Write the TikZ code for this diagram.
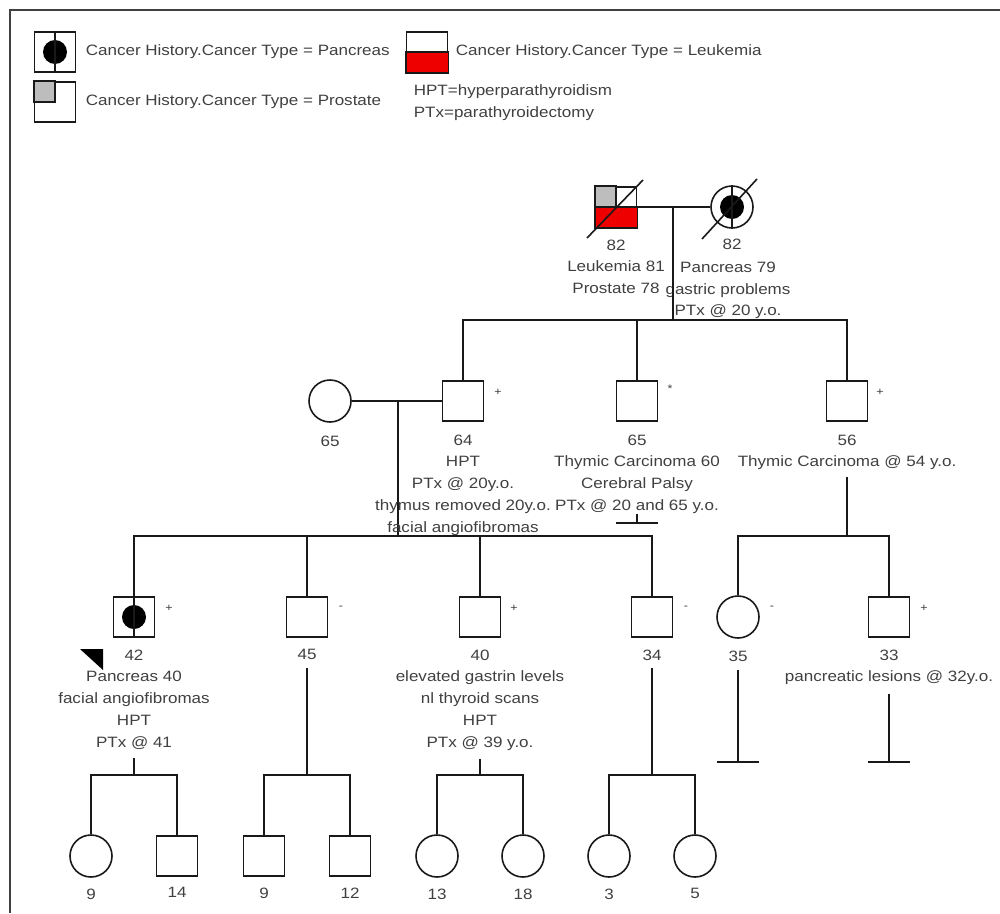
\documentclass[tikz,border=0pt]{standalone}
\usepackage{fontspec}
\setmainfont[FakeStretch=1.135]{Liberation Sans}
\usetikzlibrary{positioning}
\definecolor{txtgray}{HTML}{404040}
\definecolor{lkred}{HTML}{EE0000}
\definecolor{prgray}{HTML}{BDBDBD}

\begin{document}
\begin{tikzpicture}[x=1pt,y=-1pt,line width=1.6pt,draw=black!90,
		male/.style={draw,rectangle,minimum width=41pt,minimum height=40pt,inner sep=0pt},
		female/.style={draw,circle,minimum size=42pt,inner sep=0pt},
		info/.style={font=\fontsize{15}{21.8}\selectfont,text=txtgray,align=center,inner sep=0pt},
		sign/.style={font=\fontsize{11}{12}\selectfont,text=txtgray,inner sep=0pt}
	]
		\useasboundingbox (0,0) rectangle (1000,913);
		\draw [line width=2pt, black!75] (10,913) -- (10,10) -- (1000,10);
		
		% legend
		\node [male] (lgpan) at (55,52) {};
		\fill (lgpan.center) circle [radius=12pt];
		\draw (lgpan.north) -- (lgpan.south);
		\node [info,anchor=west] at (85,52) {Cancer History.Cancer Type = Pancreas};
		
		\node [male] (lgpro) at (55,102) {};
		\filldraw [fill=prgray] (lgpro.north west) rectangle (lgpro.center);
		\node [info,anchor=west] at (85,102) {Cancer History.Cancer Type = Prostate};
		
		\node [male] (lgleu) at (427,52) {};
		\filldraw [fill=lkred] (lgleu.west) rectangle (lgleu.south east);
		\node [info,anchor=west] at (455,52) {Cancer History.Cancer Type = Leukemia};
		\node [info,anchor=west] at (413,92) {HPT=hyperparathyroidism};
		\node [info,anchor=west] at (413,114) {PTx=parathyroidectomy};
		
		% generation I
		\node [male] (gpa) at (616,207) {};
		\filldraw [fill=lkred] (gpa.west) rectangle (gpa.south east);
		\filldraw [fill=prgray] (gpa.north west) rectangle (gpa.center);
		\draw (gpa.north) -- (gpa.center);
		\draw ([shift={(-29,31)}]gpa.center) -- ([shift={(27,-27)}]gpa.center);
		\node [info,below=11pt of gpa] (gpalbl) {82\\Leukemia 81\\Prostate 78};
		
		\node [female] (gma) at (732,207) {};
		\fill (gma.center) circle [radius=12pt];
		\draw (gma.north) -- (gma.south);
		\draw ([shift={(-30,32)}]gma.center) -- ([shift={(25,-28)}]gma.center);
		\node [info,below=9pt of gma] (gmalbl) {82};
		\node [info,below=11pt of gmalbl,xshift=-4pt] {Pancreas 79\\gastric problems\\PTx @ 20 y.o.};
		
		\coordinate (cpl1) at (673,207);
		\coordinate (sib1) at (673,320);
		\draw (gpa.east) -- (gma.west);
		\draw (cpl1) -- (sib1);
		
		% generation II
		\node [female] (spouse) at (330,401) {};
		\node [male] (father) at (463,401) {};
		\node [male] (uncA) at (637,401) {};
		\node [male] (uncB) at (847,401) {};
		\node [sign] at (498,392) {+};
		\node [sign] at (670,389) {*};
		\node [sign] at (880,392) {+};
		
		\draw (father.north) |- (sib1) -| (uncB.north);
		\draw (uncA.north) -- (uncA.north |- sib1);
		
		\coordinate (cpl2) at (398,401);
		\coordinate (sib2) at (398,536);
		\draw (spouse.east) -- (father.west);
		\draw (cpl2) -- (sib2);
		
		\node [info,below=12pt of spouse] {65};
		\node [info,below=12pt of father] (fatherlbl) {64\\HPT\\PTx @ 20y.o.\\thymus removed 20y.o.\\facial angiofibromas};
		\node [info,below=12pt of uncA] (uncAlbl) {65\\Thymic Carcinoma 60\\Cerebral Palsy\\PTx @ 20 and 65 y.o.};
		\node [info,below=12pt of uncB] (uncBlbl) {56\\Thymic Carcinoma @ 54 y.o.};
		
		\coordinate (uncAend) at (637,514);
		\coordinate (uncAbar) at (637,523);
		\draw (uncAend) -- (uncAbar);
		\draw ([xshift=-21pt]uncAbar) -- ([xshift=21pt]uncAbar);
		
		% generation III
		\node [male] (p42) at (134,617) {};
		\fill (p42.center) circle [radius=12pt];
		\draw (p42.north) -- (p42.south);
		\node [male] (s45) at (307,617) {};
		\node [male] (s40) at (480,617) {};
		\node [male] (s34) at (652,617) {};
		\node [female] (c35) at (738,617) {};
		\node [male] (c33) at (889,617) {};
		
		\draw (p42.north) |- (sib2) -| (s34.north);
		\draw (s45.north) -- (s45.north |- sib2);
		\draw (s40.north) -- (s40.north |- sib2);
		
		\coordinate (sib3) at (847,536);
		\draw ([yshift=-6pt]uncBlbl.south) -- (sib3);
		\draw (c35.north) |- (sib3) -| (c33.north);
		
		\node [sign] at (169,608) {+};
		\node [sign] at (341,608) {-};
		\node [sign] at (514,608) {+};
		\node [sign] at (686,608) {-};
		\node [sign] at (772,608) {-};
		\node [sign] at (924,608) {+};
		
		\node [info,below=11pt of p42] (p42lbl) {42\\Pancreas 40\\facial angiofibromas\\HPT\\PTx @ 41};
		\node [info,below=11pt of s45] (s45lbl) {45};
		\node [info,below=11pt of s40] (s40lbl) {40\\elevated gastrin levels\\nl thyroid scans\\HPT\\PTx @ 39 y.o.};
		\node [info,below=11pt of s34] (s34lbl) {34};
		\node [info,below=11pt of c35] (c35lbl) {35};
		\node [info,below=11pt of c33] (c33lbl) {33\\pancreatic lesions @ 32y.o.};
		\fill (80,649) -- (103,649) -- (103,670) -- cycle;
		
		% no children
		\coordinate (c35bar) at (738,762);
		\coordinate (c33bar) at (889,762);
		\draw ([yshift=-8pt]c35lbl.south) -- (c35bar);
		\draw ([xshift=-21pt]c35bar) -- ([xshift=21pt]c35bar);
		\draw ([yshift=-8pt]c33lbl.south) -- (c33bar);
		\draw ([xshift=-21pt]c33bar) -- ([xshift=21pt]c33bar);
		
		% generation IV
		\node [female] (g1) at (91,856) {};
		\node [male] (g2) at (177,856) {};
		\node [male] (g3) at (264,856) {};
		\node [male] (g4) at (350,856) {};
		\node [female] (g5) at (437,856) {};
		\node [female] (g6) at (523,856) {};
		\node [female] (g7) at (609,856) {};
		\node [female] (g8) at (695,856) {};
		
		\coordinate (k1) at (134,775);
		\coordinate (k2) at (307,775);
		\coordinate (k3) at (480,775);
		\coordinate (k4) at (652,775);
		\draw ([yshift=-8pt]p42lbl.south) -- (k1);
		\draw ([yshift=-7pt]s45lbl.south) -- (k2);
		\draw ([yshift=-8pt]s40lbl.south) -- (k3);
		\draw ([yshift=-7pt]s34lbl.south) -- (k4);
		\draw (g1.north) |- (k1) -| (g2.north);
		\draw (g3.north) |- (k2) -| (g4.north);
		\draw (g5.north) |- (k3) -| (g6.north);
		\draw (g7.north) |- (k4) -| (g8.north);
		
		\node [info,below=10pt of g1] {9};
		\node [info,below=10pt of g2] {14};
		\node [info,below=10pt of g3] {9};
		\node [info,below=10pt of g4] {12};
		\node [info,below=10pt of g5] {13};
		\node [info,below=10pt of g6] {18};
		\node [info,below=10pt of g7] {3};
		\node [info,below=10pt of g8] {5};
\end{tikzpicture}
\end{document}
